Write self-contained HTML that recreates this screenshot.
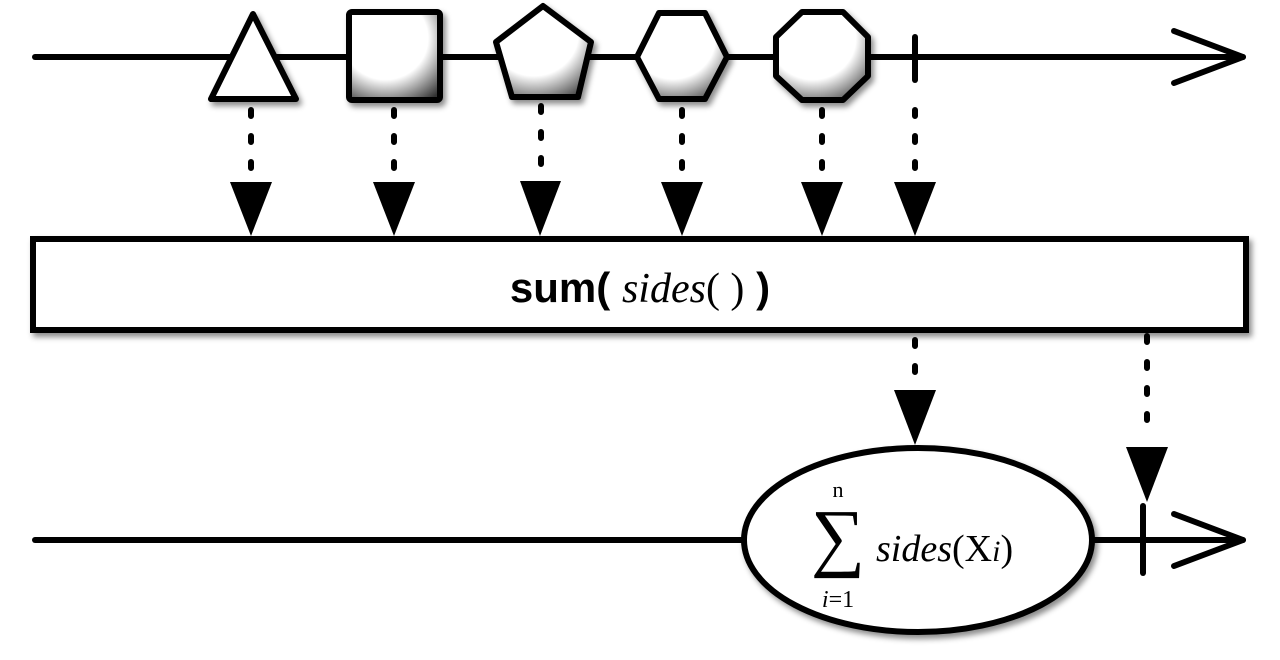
<!DOCTYPE html>
<html><head><meta charset="utf-8"><style>
html,body{margin:0;padding:0;background:#fff;}
svg{display:block;}
</style></head><body>
<svg width="1280" height="660" viewBox="0 0 1280 660">
<defs>
<radialGradient id="g" cx="0.4" cy="0.3" r="0.85">
<stop offset="0.55" stop-color="#fff"/><stop offset="1" stop-color="#333"/>
</radialGradient>
<filter id="sh" x="-20%" y="-20%" width="150%" height="150%"><feDropShadow dx="3" dy="4" stdDeviation="3" flood-opacity="0.45"/></filter>
</defs>
<g stroke="#000" stroke-width="6" fill="none" stroke-linecap="round" stroke-linejoin="round">
<line x1="35" y1="57" x2="1243" y2="57"/>
<polyline points="1174,31 1243,57 1174,83"/>
<line x1="35" y1="540" x2="1243" y2="540"/>
<polyline points="1174,514 1243,540 1174,566"/>
</g>
<g stroke="#000" stroke-width="6" stroke-linejoin="round" filter="url(#sh)">
<polygon points="253,14 211,99 296,99" fill="#fff"/>
<rect x="349" y="12" width="91" height="88" rx="3" fill="url(#g)"/>
<polygon points="543,6 591,42 578,97 512,97 496,42" fill="url(#g)"/>
<polygon points="637,57 659,13 705,13 727,57 705,99 659,99" fill="url(#g)"/>
<polygon points="802,12 843,12 868,37 868,76 843,100 802,100 776,76 776,37" fill="url(#g)"/>
</g>
<line x1="915" y1="37" x2="915" y2="80" stroke="#000" stroke-width="6" stroke-linecap="round"/>
<line x1="1143" y1="506" x2="1143" y2="573" stroke="#000" stroke-width="6" stroke-linecap="round"/>
<g stroke="#000" stroke-width="6" stroke-linecap="round" stroke-dasharray="6,20">
<line x1="251" y1="110" x2="251" y2="172"/>
<line x1="394" y1="110" x2="394" y2="172"/>
<line x1="541" y1="106" x2="541" y2="170"/>
<line x1="682" y1="110" x2="682" y2="172"/>
<line x1="822" y1="110" x2="822" y2="172"/>
<line x1="915" y1="110" x2="915" y2="172"/>
<line x1="915" y1="340" x2="915" y2="382"/>
<line x1="1147" y1="336" x2="1147" y2="440"/>
</g>
<g fill="#000">
<polygon points="230,182 272,182 251,236"/>
<polygon points="373,182 415,182 394,236"/>
<polygon points="520,181 561,181 540,236"/>
<polygon points="661,182 703,182 682,236"/>
<polygon points="801,182 843,182 822,236"/>
<polygon points="894,182 936,182 915,236"/>
<polygon points="894,390 936,390 915,445"/>
<polygon points="1126,447 1168,447 1147,502"/>
</g>
<rect x="33" y="239" width="1213" height="91" fill="#fff" stroke="#000" stroke-width="6" filter="url(#sh)"/>
<text x="640" y="302" text-anchor="middle" font-size="42" font-family="Liberation Sans, sans-serif" font-weight="bold">sum( <tspan font-family="Liberation Serif, serif" font-style="italic" font-weight="normal">sides</tspan><tspan font-family="Liberation Serif, serif" font-weight="normal">( )</tspan> )</text>
<ellipse cx="918" cy="540" rx="174" ry="92" fill="#fff" stroke="#000" stroke-width="6" filter="url(#sh)"/>
<g font-family="Liberation Serif, serif" fill="#000">
<text x="838" y="497" text-anchor="middle" font-size="22">n</text>
<text x="838" y="562" text-anchor="middle" font-size="76">∑</text>
<text x="838" y="607" text-anchor="middle" font-size="24"><tspan font-style="italic">i</tspan>=1</text>
<text x="876" y="561" font-size="38"><tspan font-style="italic">sides</tspan>(X<tspan font-style="italic" font-size="30">i</tspan>)</text>
</g>
</svg>
</body></html>
